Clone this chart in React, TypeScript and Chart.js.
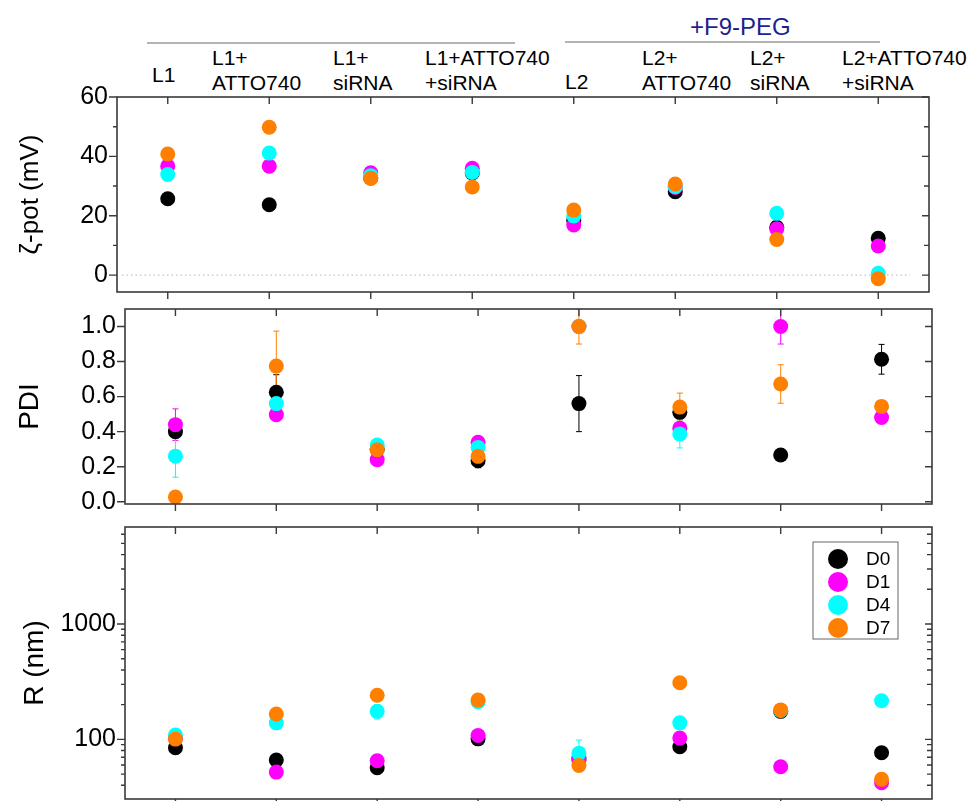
import React, { useEffect, useRef } from 'react';
import { Chart, registerables } from 'chart.js';

Chart.register(...registerables);

const FONT = '"Liberation Sans", Arial, Helvetica, sans-serif';

// ---------- data ----------
const categories: string[][] = [
  ['L1'],
  ['L1+', 'ATTO740'],
  ['L1+', 'siRNA'],
  ['L1+ATTO740', '+siRNA'],
  ['L2'],
  ['L2+', 'ATTO740'],
  ['L2+', 'siRNA'],
  ['L2+ATTO740', '+siRNA'],
];
const groupLabel = '+F9-PEG';
const seriesNames = ['D0', 'D1', 'D4', 'D7'];
const seriesColors = ['#000000', '#ff00ff', '#00ffff', '#ff8000'];

// zeta potential (mV)
const zetaD0 = [25.7, 23.7, 32.7, 34.4, 18.5, 28.1, 16.1, 12.4];
const zetaD1 = [36.7, 36.7, 34.5, 36.0, 16.9, 29.5, 15.6, 9.8];
const zetaD4 = [33.9, 41.1, 33.5, 34.6, 19.9, 29.8, 20.8, 0.6];
const zetaD7 = [40.8, 49.8, 32.6, 29.7, 21.9, 30.7, 12.0, -1.2];
const zetaTicks = [0, 20, 40, 60];
const zetaMinorTicks = [10, 30, 50];
const zetaMin = -5.7;
const zetaMax = 60;

// PDI
const pdiD0 = [0.40, 0.625, 0.30, 0.234, 0.56, 0.51, 0.267, 0.813];
const pdiD1 = [0.44, 0.497, 0.24, 0.339, 1.0, 0.42, 1.0, 0.481];
const pdiD4 = [0.26, 0.56, 0.324, 0.31, 1.0, 0.387, null, null];
const pdiD7 = [0.027, 0.774, 0.297, 0.259, 1.0, 0.54, 0.672, 0.544];
const pdiErrD0 = [null, 0.10, null, 0.04, 0.16, null, null, 0.085];
const pdiErrD1 = [0.09, null, null, null, null, null, 0.10, null];
const pdiErrD4 = [0.12, null, null, null, null, 0.08, null, null];
const pdiErrD7 = [null, 0.2, null, null, 0.1, 0.08, 0.11, null];
const pdiTicks = [0.0, 0.2, 0.4, 0.6, 0.8, 1.0];
const pdiMin = -0.013;
const pdiMax = 1.10;

// R (nm)
const rD0 = [84.6, 66.2, 56.8, 101, 68, 86.3, 175, 76.5];
const rD1 = [102, 52, 65.2, 108, 66, 102.6, 57.8, 42];
const rD4 = [109, 139, 175, 212, 75.6, 139, 178, 216];
const rD7 = [100.5, 166, 241, 219, 59.4, 310, 180, 45];
const rErrD0 = [null, null, null, null, null, null, null, null];
const rErrD1 = [null, null, null, null, null, null, 6, null];
const rErrD4 = [null, null, 25, null, 23, null, null, null];
const rErrD7 = [null, null, null, null, 5, null, null, null];
const rTicks = [100, 1000];
const rMinorTicks = [40, 50, 60, 70, 80, 90, 200, 300, 400, 500, 600, 700, 800, 900, 2000, 3000, 4000, 5000, 6000];
const rMin = 30.4;
const rMax = 6940;

// ---------- helpers ----------
type Decor = {
  errors?: (number | null)[][];
  major: number[];
  minor: number[];
  zeroLine?: boolean;
  legend?: boolean;
};

function makeDecor(d: Decor) {
  return {
    id: 'decor',
    beforeDatasetsDraw(chart: any) {
      const { ctx, chartArea: a } = chart;
      const xs = chart.scales.x;
      const ys = chart.scales.y;
      if (d.zeroLine) {
        const y = ys.getPixelForValue(0);
        ctx.save();
        ctx.strokeStyle = '#c4c4c4';
        ctx.lineWidth = 1.3;
        ctx.setLineDash([1.5, 3]);
        ctx.beginPath();
        ctx.moveTo(a.left + 5, y);
        ctx.lineTo(a.right - 19, y);
        ctx.stroke();
        ctx.restore();
      }
      if (d.errors) {
        ctx.save();
        ctx.beginPath();
        ctx.rect(a.left, a.top, a.width, a.height);
        ctx.clip();
        d.errors.forEach((errs, di) => {
          const vals = chart.data.datasets[di].data as (number | null)[];
          ctx.strokeStyle = seriesColors[di];
          ctx.lineWidth = 1;
          errs.forEach((e, i) => {
            const v = vals[i];
            if (e == null || v == null) return;
            const x = xs.getPixelForValue(i);
            const yt = ys.getPixelForValue(v + e);
            const yb = ys.getPixelForValue(v - e);
            ctx.beginPath();
            ctx.moveTo(x, yt);
            ctx.lineTo(x, yb);
            ctx.moveTo(x - 3, yt);
            ctx.lineTo(x + 3, yt);
            ctx.moveTo(x - 3, yb);
            ctx.lineTo(x + 3, yb);
            ctx.stroke();
          });
        });
        ctx.restore();
      }
    },
    afterDraw(chart: any) {
      const { ctx, chartArea: a } = chart;
      const xs = chart.scales.x;
      const ys = chart.scales.y;
      ctx.save();
      ctx.strokeStyle = '#3a3a3a';
      ctx.lineWidth = 1.6;
      ctx.strokeRect(a.left, a.top, a.width, a.height);
      ctx.lineWidth = 1.4;
      ctx.beginPath();
      for (let i = 0; i < chart.data.labels.length; i++) {
        const x = xs.getPixelForValue(i);
        ctx.moveTo(x, a.bottom);
        ctx.lineTo(x, a.bottom + 7);
        ctx.moveTo(x, a.top);
        ctx.lineTo(x, a.top + 7);
      }
      d.major.forEach((v) => {
        const y = ys.getPixelForValue(v);
        ctx.moveTo(a.left - 8, y);
        ctx.lineTo(a.left, y);
        ctx.moveTo(a.right - 7, y);
        ctx.lineTo(a.right, y);
      });
      d.minor.forEach((v) => {
        const y = ys.getPixelForValue(v);
        ctx.moveTo(a.left - 4, y);
        ctx.lineTo(a.left, y);
        ctx.moveTo(a.right - 5, y);
        ctx.lineTo(a.right, y);
      });
      ctx.stroke();

      if (d.legend) {
        const bx = a.right - 119;
        const by = a.top + 15;
        const bw = 85;
        const bh = 97;
        ctx.fillStyle = '#ffffff';
        ctx.fillRect(bx, by, bw, bh);
        ctx.strokeStyle = '#666666';
        ctx.lineWidth = 1;
        ctx.strokeRect(bx, by, bw, bh);
        chart.data.datasets.forEach((ds: any, i: number) => {
          const cy = by + 17 + i * 23;
          ctx.fillStyle = ds.backgroundColor;
          ctx.beginPath();
          ctx.arc(bx + 25, cy, 10, 0, Math.PI * 2);
          ctx.fill();
          ctx.fillStyle = '#000000';
          ctx.font = `19px ${FONT}`;
          ctx.textBaseline = 'middle';
          ctx.textAlign = 'left';
          ctx.fillText(ds.label, bx + 53, cy + 1);
        });
      }
      ctx.restore();
    },
  };
}

function makeDatasets(arrays: (number | null)[][]) {
  return seriesNames.map((name, i) => ({
    label: name,
    data: arrays[i],
    backgroundColor: seriesColors[i],
    borderColor: seriesColors[i],
    showLine: false,
    pointRadius: 7.5,
    pointHoverRadius: 7.5,
    pointBorderWidth: 0,
    order: seriesNames.length - i,
  }));
}

function makeConfig(opts: {
  arrays: (number | null)[][];
  yType: 'linear' | 'logarithmic';
  min: number;
  max: number;
  ticks: number[];
  fmt: (v: number) => string;
  title: string;
  titleSize: number;
  titlePad: number;
  axisWidth: number;
  padding: { top: number; bottom: number; right: number };
  decor: Decor;
}) {
  return {
    type: 'line',
    data: { labels: categories, datasets: makeDatasets(opts.arrays) },
    options: {
      animation: false,
      responsive: false,
      events: [],
      layout: { padding: { left: 0, right: opts.padding.right, top: opts.padding.top, bottom: opts.padding.bottom } },
      plugins: { legend: { display: false }, tooltip: { enabled: false } },
      scales: {
        x: {
          type: 'category',
          offset: true,
          grid: { display: false, drawTicks: false },
          border: { display: false },
          ticks: { display: false },
        },
        y: {
          type: opts.yType,
          min: opts.min,
          max: opts.max,
          grid: { display: false, drawTicks: false },
          border: { display: false },
          afterBuildTicks: (s: any) => {
            s.ticks = opts.ticks.map((v) => ({ value: v }));
          },
          afterFit: (s: any) => {
            s.width = opts.axisWidth;
          },
          ticks: {
            color: '#000000',
            padding: 9,
            font: { size: 25, family: FONT },
            callback: (v: any) => opts.fmt(Number(v)),
          },
          title: {
            display: true,
            text: opts.title,
            color: '#000000',
            font: { size: opts.titleSize, family: FONT },
            padding: { top: opts.titlePad, bottom: 0 },
          },
        },
      },
    },
    plugins: [makeDecor(opts.decor)],
  } as any;
}

// header text layout
const headerLayout = [
  { left: 152, top: 62 },
  { left: 212, top: 45 },
  { left: 333, top: 45 },
  { left: 425, top: 45 },
  { left: 565, top: 69 },
  { left: 642, top: 45 },
  { left: 750, top: 45 },
  { left: 842, top: 45 },
];

export default function App() {
  const c1 = useRef<HTMLCanvasElement>(null);
  const c2 = useRef<HTMLCanvasElement>(null);
  const c3 = useRef<HTMLCanvasElement>(null);

  useEffect(() => {
    const charts: Chart[] = [];
    charts.push(
      new Chart(
        c1.current as HTMLCanvasElement,
        makeConfig({
          arrays: [zetaD0, zetaD1, zetaD4, zetaD7],
          yType: 'linear',
          min: zetaMin,
          max: zetaMax,
          ticks: zetaTicks,
          fmt: (v) => String(v),
          title: 'ζ-pot (mV)',
          titleSize: 26,
          titlePad: 15,
          axisWidth: 117,
          padding: { top: 37, bottom: 30, right: 45 },
          decor: { major: zetaTicks, minor: zetaMinorTicks, zeroLine: true },
        })
      )
    );
    charts.push(
      new Chart(
        c2.current as HTMLCanvasElement,
        makeConfig({
          arrays: [pdiD0, pdiD1, pdiD4, pdiD7],
          yType: 'linear',
          min: pdiMin,
          max: pdiMax,
          ticks: pdiTicks,
          fmt: (v) => v.toFixed(1),
          title: 'PDI',
          titleSize: 28,
          titlePad: 13,
          axisWidth: 125,
          padding: { top: 29, bottom: 30, right: 42 },
          decor: { major: pdiTicks, minor: [], errors: [pdiErrD0, pdiErrD1, pdiErrD4, pdiErrD7] },
        })
      )
    );
    charts.push(
      new Chart(
        c3.current as HTMLCanvasElement,
        makeConfig({
          arrays: [rD0, rD1, rD4, rD7],
          yType: 'logarithmic',
          min: rMin,
          max: rMax,
          ticks: rTicks,
          fmt: (v) => String(v),
          title: 'R (nm)',
          titleSize: 28,
          titlePad: 18,
          axisWidth: 125,
          padding: { top: 29, bottom: 30, right: 42 },
          decor: { major: rTicks, minor: rMinorTicks, errors: [rErrD0, rErrD1, rErrD4, rErrD7], legend: true },
        })
      )
    );
    return () => charts.forEach((c) => c.destroy());
  }, []);

  const textBase: React.CSSProperties = {
    position: 'absolute',
    fontFamily: FONT,
    fontSize: 21,
    lineHeight: '25px',
    color: '#000000',
    whiteSpace: 'pre',
  };

  return (
    <div style={{ position: 'absolute', left: 0, top: 0, width: 974, height: 801, background: '#ffffff', overflow: 'hidden' }}>
      <div style={{ position: 'absolute', left: 147, top: 42, width: 368, height: 2, background: '#b4b4b4' }} />
      <div style={{ position: 'absolute', left: 565, top: 41, width: 315, height: 2, background: '#b4b4b4' }} />
      <div style={{ ...textBase, left: 690, top: 15, fontSize: 24, lineHeight: '24px', color: '#1f1f8f' }}>{groupLabel}</div>
      {categories.map((lines, i) => (
        <div key={i} style={{ ...textBase, left: headerLayout[i].left, top: headerLayout[i].top }}>
          {lines.join('\n')}
        </div>
      ))}
      <canvas ref={c1} width={974} height={262} style={{ position: 'absolute', left: 0, top: 60, display: 'block' }} />
      <canvas ref={c2} width={974} height={254} style={{ position: 'absolute', left: 0, top: 280, display: 'block' }} />
      <canvas ref={c3} width={974} height={331} style={{ position: 'absolute', left: 0, top: 498, display: 'block' }} />
    </div>
  );
}
